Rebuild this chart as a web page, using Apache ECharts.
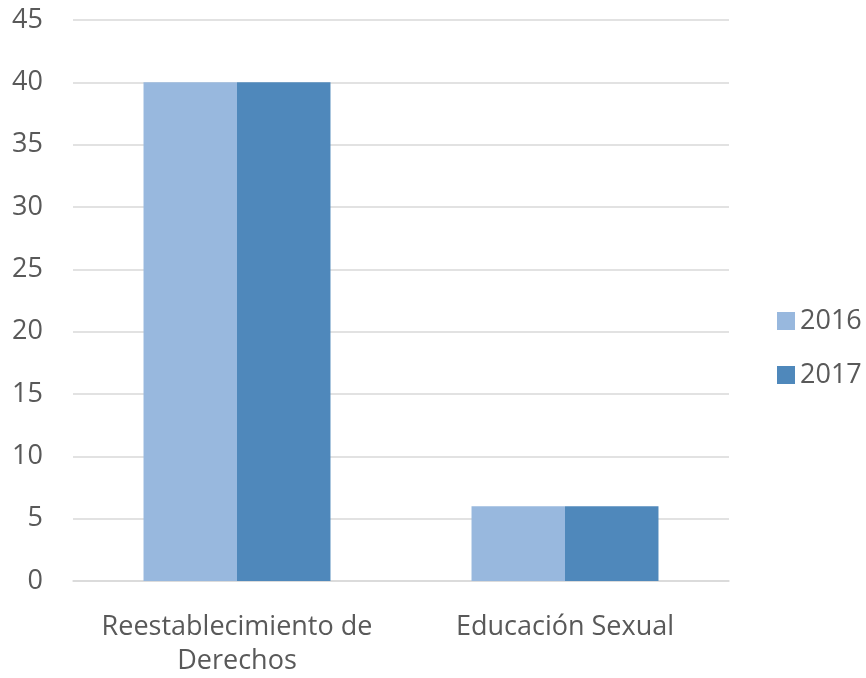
<!DOCTYPE html>
<html><head><meta charset="utf-8">
<script src="https://cdn.jsdelivr.net/npm/echarts@6/dist/echarts.min.js"></script>
<style>html,body{margin:0;padding:0;background:#fff}#c{width:866px;height:678px}</style>
</head><body><div id="c"></div>
<script>
const categories = ['Reestablecimiento de\nDerechos', 'Educación Sexual'];
const seriesNames = ['2016', '2017'];
const values2016 = [40, 6];
const values2017 = [40, 6];
const colors = ['#98B8DE', '#4F88BB'];
const font = '"Open Sans", sans-serif';
const chart = echarts.init(document.getElementById('c'));
chart.setOption({
  animation: false,
  grid: {left: 73, right: 137, top: 20, bottom: 94, containLabel: false},
  legend: {
    orient: 'vertical', left: 772, top: 302,
    itemWidth: 18, itemHeight: 18, itemGap: 26, itemTextGap: 9,
    icon: 'rect',
    data: seriesNames,
    textStyle: {fontFamily: font, fontSize: 27, lineHeight: 28, color: '#595959'}
  },
  xAxis: {
    type: 'category', data: categories,
    axisLine: {lineStyle: {color: '#D9D9D9', width: 1.5}},
    axisTick: {show: false},
    axisLabel: {interval: 0, hideOverlap: false, fontFamily: font, fontSize: 27, color: '#595959', margin: 29, lineHeight: 34}
  },
  yAxis: {
    type: 'value', min: 0, max: 45, interval: 5,
    axisLine: {show: false}, axisTick: {show: false},
    splitLine: {lineStyle: {color: '#D9D9D9', width: 1.5}},
    axisLabel: {fontFamily: font, fontSize: 27, color: '#595959', margin: 30, align: 'right'}
  },
  series: [
    {name: seriesNames[0], type: 'bar', data: values2016, itemStyle: {color: colors[0]}, barGap: '0%', barCategoryGap: '43%'},
    {name: seriesNames[1], type: 'bar', data: values2017, itemStyle: {color: colors[1]}, barGap: '0%', barCategoryGap: '43%'}
  ]
});
</script></body></html>
